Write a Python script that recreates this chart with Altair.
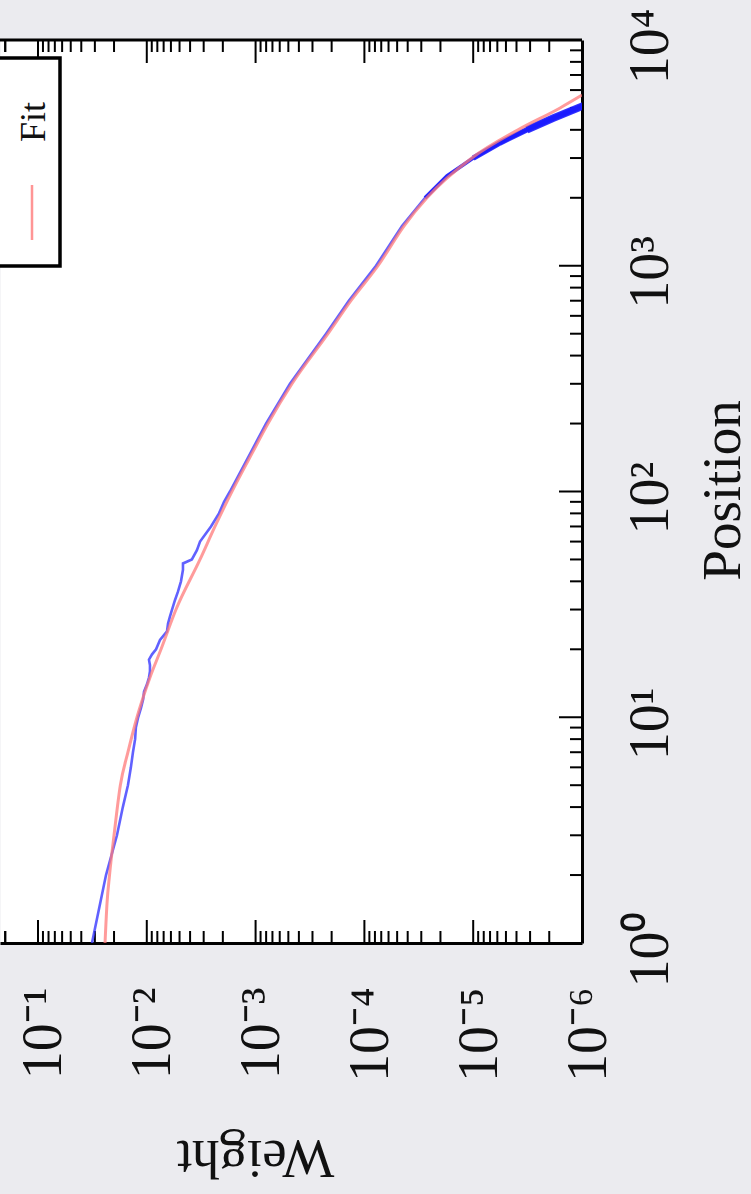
import json
import altair as alt
import pandas as pd

# Measured weight per position (blue)
data_position = [1, 2, 3, 4, 5, 6, 7, 8, 9, 10,
                 11, 12, 13, 14, 15, 16, 17, 18, 19, 20,
                 22, 24, 26, 28, 30, 33, 36, 40, 45, 48,
                 50, 55, 60, 70, 80, 90, 100, 150, 200, 300,
                 500, 700, 1000, 1500, 2000, 2500, 3000, 3500, 4000, 4500,
                 5000, 5500]
data_weight = [3.19e-2, 2.37e-2, 1.88e-2, 1.66e-2, 1.49e-2, 1.40e-2, 1.34e-2, 1.28e-2, 1.26e-2, 1.20e-2,
               1.13e-2, 1.08e-2, 1.06e-2, 9.96e-3, 9.55e-3, 9.35e-3, 9.35e-3, 9.55e-3, 8.95e-3, 8.22e-3,
               7.56e-3, 6.52e-3, 6.38e-3, 6.12e-3, 5.86e-3, 5.51e-3, 5.17e-3, 4.85e-3, 4.65e-3, 4.65e-3,
               3.85e-3, 3.46e-3, 3.24e-3, 2.57e-3, 2.17e-3, 1.95e-3, 1.72e-3, 1.10e-3, 8.02e-4, 4.83e-4,
               2.25e-4, 1.39e-4, 7.82e-5, 4.51e-5, 2.77e-5, 1.74e-5, 1.00e-5, 5.68e-6, 3.21e-6, 1.85e-6,
               1.09e-6, 6.8e-7]

# Fitted curve (red)
fit_position = [1, 1.5, 2, 3, 5, 7, 10, 15, 20, 30, 50, 70, 100, 150, 200,
                300, 500, 700, 1000, 1500, 2000, 3000, 4000, 5000, 5700]
fit_weight = [2.42e-2, 2.32e-2, 2.20e-2, 2.00e-2, 1.75e-2, 1.49e-2, 1.23e-2, 9.35e-3, 7.40e-3,
              5.39e-3, 3.24e-3, 2.36e-3, 1.65e-3, 1.06e-3, 7.69e-4, 4.63e-4, 2.16e-4, 1.33e-4,
              7.50e-5, 4.33e-5, 2.66e-5, 1.03e-5, 3.87e-6, 1.59e-6, 1.0e-6]

weight_ticks = [1e-1, 1e-2, 1e-3, 1e-4, 1e-5, 1e-6]
weight_labels = ["10⁻¹", "10⁻²", "10⁻³", "10⁻⁴", "10⁻⁵", "10⁻⁶"]
position_ticks = [1, 10, 100, 1000, 10000]
position_labels = ["10⁰", "10¹", "10²", "10³", "10⁴"]
legend_label = "Fit"

weight_minor = [k * 10.0 ** e for e in range(-6, 0) for k in range(2, 10)] + [0.2]
position_minor = [k * 10 ** e for e in range(0, 4) for k in range(2, 10)]

PLOT_W, PLOT_H = 582, 903
SERIF = "Liberation Serif"
BLUE = "#3a3aff"
DENSE_BLUE = "#1c1cff"
RED = "#ff7a7a"
MAJOR, MINOR = 23, 12

weight_scale = alt.Scale(type="log", domain=[1e-6, 0.2234], reverse=True, nice=False)
position_scale = alt.Scale(type="log", domain=[1, 1e4], nice=False)

weight_axis = alt.Axis(
    orient="bottom", values=weight_ticks,
    labelExpr=json.dumps(weight_labels, ensure_ascii=False) + "[round(-log(datum.value)/LN10) - 1]",
    labelAngle=270, labelAlign="right", labelBaseline="alphabetic",
    labelOffset=23, labelPadding=44, labelFont=SERIF, labelFontSize=56,
    labelColor="#111111", labelFlush=False, labelOverlap=False,
    ticks=False, tickSize=0, grid=False,
    domainColor="black", domainWidth=3,
    title="Weight", titleAngle=180, titleX=255, titleY=197,
    titleAlign="center", titleBaseline="alphabetic",
    titleFont=SERIF, titleFontSize=55, titleFontWeight="normal", titleColor="#111111",
)
position_axis = alt.Axis(
    orient="right", values=position_ticks,
    labelExpr=json.dumps(position_labels, ensure_ascii=False) + "[round(log(datum.value)/LN10)]",
    labelAngle=270, labelAlign="center", labelBaseline="alphabetic",
    labelOffset=6, labelPadding=85, labelFont=SERIF, labelFontSize=56,
    labelColor="#111111", labelFlush=False, labelOverlap=False,
    ticks=False, tickSize=0, grid=False,
    domainColor="black", domainWidth=3,
    title="Position", titleAngle=270, titleX=157, titleY=450,
    titleAlign="center", titleBaseline="alphabetic",
    titleFont=SERIF, titleFontSize=55, titleFontWeight="normal", titleColor="#111111",
)


def xw(field="Weight"):
    return alt.X(f"{field}:Q", scale=weight_scale, axis=weight_axis)


def yp(field="Position"):
    return alt.Y(f"{field}:Q", scale=position_scale, axis=position_axis)


data_df = pd.DataFrame({"Position": data_position, "Weight": data_weight})
fit_df = pd.DataFrame({"Position": fit_position, "Weight": fit_weight})


def measured(df, width, color, opacity):
    return alt.Chart(df).mark_line(color=color, strokeWidth=width, opacity=opacity, clip=True).encode(
        x=xw(), y=yp(), order="Position:Q"
    )


# The densely sampled tail of the measurements reads as a band that widens
data_line = measured(data_df, 2.6, BLUE, 0.8)
tail_layers = [
    measured(data_df[data_df["Position"] >= start], width, DENSE_BLUE, 0.9)
    for start, width in [(2000, 3.8), (3000, 5.5), (4000, 7.5)]
]

fit_line = alt.Chart(fit_df).mark_line(color=RED, strokeWidth=3, opacity=0.75, interpolate="monotone",
                                       clip=True).encode(
    x=xw(), y=yp(), order="Position:Q"
)

# Inward ticks on bottom, top and right edges
wmaj = pd.DataFrame({"Weight": weight_ticks})
wmin = pd.DataFrame({"Weight": weight_minor})
pmaj = pd.DataFrame({"Position": position_ticks})
pmin = pd.DataFrame({"Position": position_minor})


def wticks(df, length):
    bottom = alt.Chart(df).mark_rule(color="black", strokeWidth=2, clip=True).encode(
        x=xw(), y=alt.value(PLOT_H), y2=alt.value(PLOT_H - length))
    top = alt.Chart(df).mark_rule(color="black", strokeWidth=2, clip=True).encode(
        x=xw(), y=alt.value(0), y2=alt.value(length))
    return [bottom, top]


def pticks(df, length):
    return [alt.Chart(df).mark_rule(color="black", strokeWidth=2, clip=True).encode(
        y=yp(), x=alt.value(PLOT_W), x2=alt.value(PLOT_W - length))]


ticks = wticks(wmaj, MAJOR) + wticks(wmin, MINOR) + pticks(pmaj, MAJOR) + pticks(pmin, MINOR)

anchor = pd.DataFrame({"label": [legend_label]})
top_border = alt.Chart(anchor).mark_rule(color="black", strokeWidth=3).encode(
    x=alt.value(0), x2=alt.value(PLOT_W), y=alt.value(0))
legend_box = alt.Chart(anchor).mark_rect(fill="white", stroke="black", strokeWidth=3.5).encode(
    x=alt.value(-10), x2=alt.value(60), y=alt.value(18), y2=alt.value(226))
legend_line = alt.Chart(anchor).mark_rule(color=RED, strokeWidth=2.5, opacity=0.8).encode(
    x=alt.value(32), y=alt.value(145), y2=alt.value(200))
legend_text = alt.Chart(anchor).mark_text(
    angle=270, align="center", baseline="alphabetic", font=SERIF, fontSize=36, color="#111111"
).encode(x=alt.value(45), y=alt.value(82), text="label:N")

chart = alt.layer(
    *ticks, data_line, *tail_layers, fit_line, top_border, legend_box, legend_line, legend_text
).properties(
    width=PLOT_W, height=PLOT_H,
    autosize=alt.AutoSizeParams(type="none"),
    padding={"left": 0, "top": 40, "right": 169, "bottom": 251},
    background="#ebebef",
).configure_view(stroke="transparent", fill="white")

chart.save("out.html", embed_options={"renderer": "svg", "actions": False})
